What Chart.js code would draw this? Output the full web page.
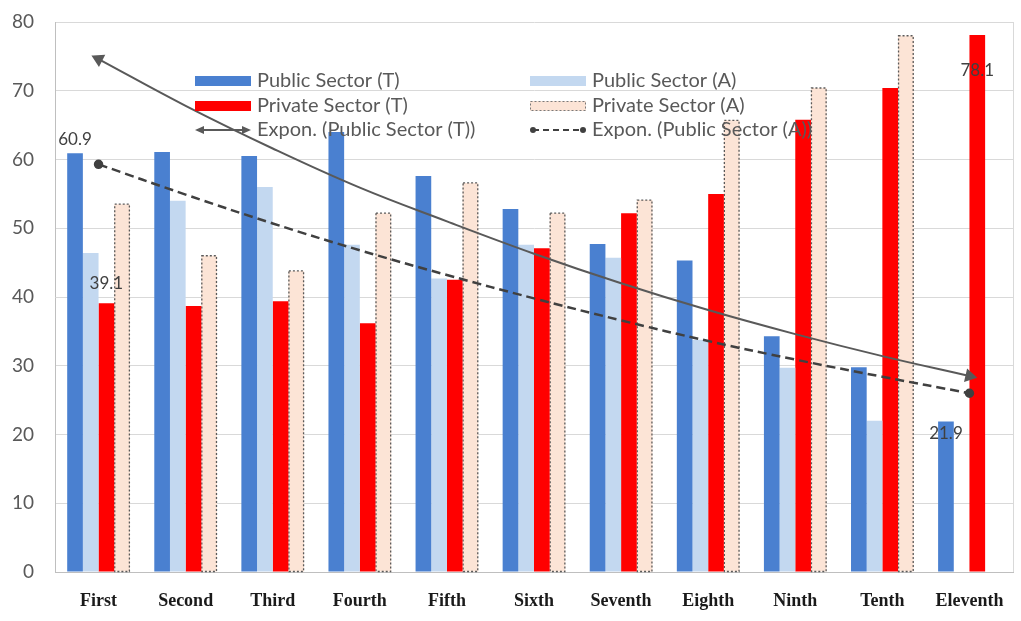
<!DOCTYPE html>
<html>
<head>
<meta charset="utf-8">
<script src="https://cdn.jsdelivr.net/npm/chart.js@4.4.1/dist/chart.umd.min.js"></script>
<style>
  html, body { margin: 0; padding: 0; background: #ffffff; }
  #wrap { width: 1021px; height: 621px; position: relative; }
</style>
</head>
<body>
<div id="wrap"><canvas id="sectorChart"></canvas></div>
<script>

// =======================
// DATA
// =======================

const categories = ["First", "Second", "Third", "Fourth", "Fifth", "Sixth",
                    "Seventh", "Eighth", "Ninth", "Tenth", "Eleventh"];

const publicT  = [60.9, 61.1, 60.5, 64.0, 57.6, 52.8, 47.7, 45.3, 34.3, 29.8, 21.9];
const publicA  = [46.4, 54.0, 56.0, 47.6, 42.7, 47.6, 45.7, 33.8, 29.7, 22.0, null];
const privateT = [39.1, 38.7, 39.4, 36.2, 42.5, 47.1, 52.2, 55.0, 65.8, 70.4, 78.1];
const privateA = [53.5, 46.0, 43.8, 52.2, 56.6, 52.2, 54.1, 65.7, 70.4, 78.0, null];

// trend lines
const trendPublicT = [74.6, 67.8, 61.6, 55.9, 51.0, 46.3, 42.0, 38.1, 34.6, 31.4, 28.5];
const trendPublicA = [59.3, 54.9, 50.7, 46.8, 43.2, 39.8, 36.6, 33.6, 30.9, 28.4, 26.0];

const yTicks = [0, 10, 20, 30, 40, 50, 60, 70, 80];

const seriesNames = ["Public Sector (T)", "Public Sector (A)", "Private Sector (T)",
                     "Private Sector (A)", "Expon. (Public Sector (T))", "Expon. (Public Sector (A))"];

// =======================
// STYLE
// =======================

const C_DARK = "#4A80D0";
const C_LIGHT = "#C3D8F0";
const C_RED = "#FF0000";
const C_PEACH = "#FCE4D6";
const C_TEXT = "#595959";
const SANS = "Lato, 'Liberation Sans', sans-serif";

// =======================
// PLUGINS
// =======================

// dotted outline for Private Sector (A) bars
const dottedBars = {
  id: "dottedBars",
  afterDatasetDraw(chart, args) {
    if (args.meta.label !== seriesNames[3]) return;
    const ctx = chart.ctx;
    ctx.save();
    ctx.strokeStyle = "#5a5a5a";
    ctx.lineWidth = 1.3;
    ctx.setLineDash([2, 2]);
    args.meta.data.forEach((el, i) => {
      if (privateA[i] == null) return;
      const p = el.getProps(["x", "y", "base", "width"], true);
      ctx.strokeRect(p.x - p.width / 2 + 0.5, p.y, p.width - 1, p.base - p.y);
    });
    ctx.restore();
  }
};

// plot frame on the right
const frame = {
  id: "frame",
  beforeDatasetsDraw(chart) {
    const { ctx, chartArea: a } = chart;
    ctx.save();
    ctx.strokeStyle = "#d9d9d9";
    ctx.lineWidth = 1;
    ctx.beginPath();
    ctx.moveTo(Math.round(a.right) + 0.5, a.top);
    ctx.lineTo(Math.round(a.right) + 0.5, a.bottom);
    ctx.stroke();
    ctx.restore();
  }
};

// the four data labels
const valueLabels = {
  id: "valueLabels",
  afterDatasetsDraw(chart) {
    const ctx = chart.ctx;
    const spots = [
      { ds: 0, i: 0, dx: 0, dy: -14 },
      { ds: 2, i: 0, dx: 0, dy: -20 },
      { ds: 0, i: 10, dx: 0, dy: 12 },
      { ds: 2, i: 10, dx: 0, dy: 35 }
    ];
    ctx.save();
    ctx.font = "17px " + SANS;
    ctx.fillStyle = "#404040";
    ctx.textAlign = "center";
    ctx.textBaseline = "middle";
    spots.forEach(s => {
      const meta = chart.getDatasetMeta(s.ds + 2);
      const el = meta.data[s.i];
      const v = chart.data.datasets[s.ds + 2].data[s.i];
      ctx.fillText(v.toFixed(1), el.x + s.dx, el.y + s.dy);
    });
    ctx.restore();
  }
};

// legend in two columns inside the plot
const boxLegend = {
  id: "boxLegend",
  afterDatasetsDraw(chart) {
    const { ctx, chartArea: a } = chart;
    const cols = [a.left + 140, a.left + 475];
    const rows = [a.top + 59, a.top + 84, a.top + 108];
    const sw = 56;
    ctx.save();
    ctx.font = "20px " + SANS;
    ctx.textBaseline = "middle";
    seriesNames.forEach((name, k) => {
      const x = cols[k % 2];
      const y = rows[Math.floor(k / 2)];
      if (k < 4) {
        ctx.fillStyle = [C_DARK, C_LIGHT, C_RED, C_PEACH][k];
        ctx.fillRect(x, y - 5, sw, 10);
        if (k === 3) {
          ctx.strokeStyle = "#7a7a7a";
          ctx.lineWidth = 1;
          ctx.setLineDash([2, 2]);
          ctx.strokeRect(x + 0.5, y - 4.5, sw - 1, 9);
          ctx.setLineDash([]);
        }
      } else if (k === 4) {
        ctx.strokeStyle = "#595959";
        ctx.fillStyle = "#595959";
        ctx.lineWidth = 2;
        ctx.beginPath();
        ctx.moveTo(x + 4, y);
        ctx.lineTo(x + sw - 4, y);
        ctx.stroke();
        ctx.beginPath();
        ctx.moveTo(x, y); ctx.lineTo(x + 9, y - 4); ctx.lineTo(x + 9, y + 4); ctx.closePath();
        ctx.moveTo(x + sw, y); ctx.lineTo(x + sw - 9, y - 4); ctx.lineTo(x + sw - 9, y + 4); ctx.closePath();
        ctx.fill();
      } else {
        ctx.strokeStyle = "#404040";
        ctx.fillStyle = "#404040";
        ctx.lineWidth = 2;
        ctx.setLineDash([6, 4]);
        ctx.beginPath();
        ctx.moveTo(x + 3, y);
        ctx.lineTo(x + sw - 3, y);
        ctx.stroke();
        ctx.setLineDash([]);
        ctx.beginPath(); ctx.arc(x + 3, y, 3, 0, Math.PI * 2); ctx.fill();
        ctx.beginPath(); ctx.arc(x + sw - 3, y, 3, 0, Math.PI * 2); ctx.fill();
      }
      ctx.fillStyle = C_TEXT;
      ctx.fillText(name, x + sw + 6, y);
    });
    ctx.restore();
  }
};

// =======================
// CHART
// =======================

const endsOnly = (big) => categories.map((c, i) => (i === 0 || i === categories.length - 1) ? big : 0);

const ctx = document.getElementById("sectorChart").getContext("2d");

const chart = new Chart(ctx, {
  data: {
    labels: categories,
    datasets: [
      {
        type: "line",
        label: seriesNames[4],
        data: trendPublicT,
        borderColor: "#595959",
        backgroundColor: "#595959",
        borderWidth: 2,
        tension: 0.4,
        pointStyle: "triangle",
        pointRadius: endsOnly(6),
        pointRotation: categories.map((c, i) => i === 0 ? -63 : (i === categories.length - 1 ? 103 : 0)),
        order: 0
      },
      {
        type: "line",
        label: seriesNames[5],
        data: trendPublicA,
        borderColor: "#404040",
        backgroundColor: "#404040",
        borderWidth: 2.5,
        borderDash: [9, 5],
        tension: 0.4,
        pointStyle: "circle",
        pointRadius: endsOnly(3.5),
        order: 0
      },
      { type: "bar", label: seriesNames[0], data: publicT, backgroundColor: C_DARK, order: 1 },
      { type: "bar", label: seriesNames[1], data: publicA, backgroundColor: C_LIGHT, order: 1 },
      { type: "bar", label: seriesNames[2], data: privateT, backgroundColor: C_RED, order: 1 },
      { type: "bar", label: seriesNames[3], data: privateA, backgroundColor: C_PEACH, order: 1 }
    ]
  },
  options: {
    responsive: true,
    maintainAspectRatio: false,
    animation: false,
    layout: { padding: { top: 22, right: 8, left: 0, bottom: 0 } },
    datasets: {
      bar: { categoryPercentage: 0.72, barPercentage: 1.0 }
    },
    plugins: {
      legend: { display: false },
      tooltip: { enabled: false }
    },
    scales: {
      x: {
        grid: { display: false, drawTicks: false },
        border: { display: true, color: "#bfbfbf", width: 1 },
        ticks: {
          padding: 19,
          color: "#1a1a1a",
          font: { family: "'Liberation Serif', serif", size: 18, weight: "bold" }
        },
        afterFit: s => { s.height = 49; s.paddingLeft = 0; s.paddingRight = 0; }
      },
      y: {
        min: 0,
        max: 80,
        afterBuildTicks: s => { s.ticks = yTicks.map(v => ({ value: v })); },
        grid: { color: "#d9d9d9", drawTicks: false },
        border: { display: true, color: "#bfbfbf", width: 1 },
        ticks: {
          padding: 21,
          color: C_TEXT,
          font: { family: SANS, size: 19 }
        },
        afterFit: s => { s.width = 55; s.paddingTop = 0; s.paddingBottom = 0; }
      }
    }
  },
  plugins: [frame, dottedBars, valueLabels, boxLegend]
});

</script>
</body>
</html>
